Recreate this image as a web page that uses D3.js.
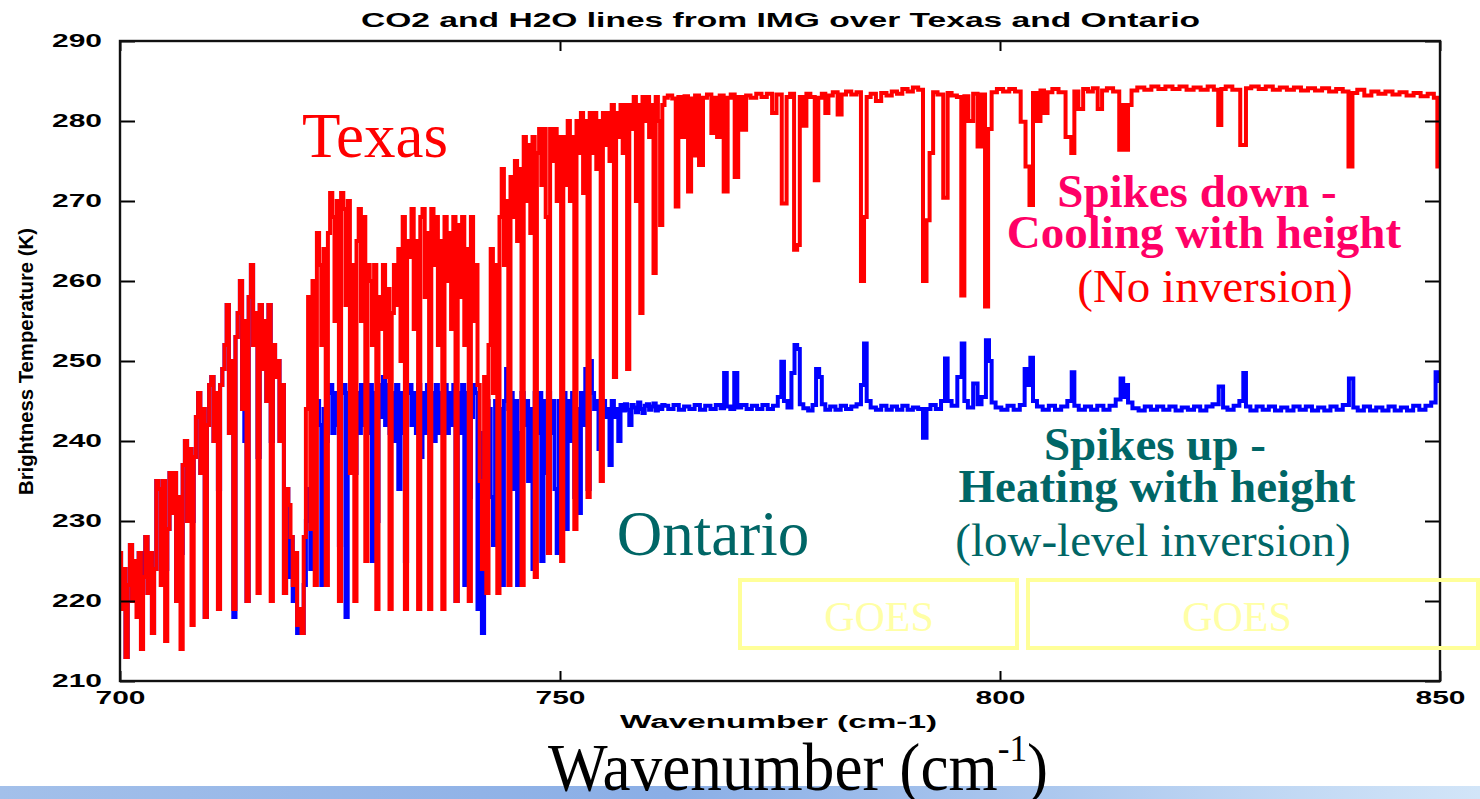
<!DOCTYPE html>
<html>
<head>
<meta charset="utf-8">
<script src="https://cdn.jsdelivr.net/npm/d3@7"></script>
<style>
  body { margin: 0; background: #fff; }
  svg { display: block; }
</style>
</head>
<body>
<div id="chart"></div>
<script>
// IMG brightness temperature spectra (K).
// Dense CO2 band part sampled every 0.25 cm-1, the rest as [wavenumber, K] pairs.
const STEP = 0.25;

const texas700 = [
  226, 219, 224, 213, 222, 227,  220, 225, 218, 226, 214, 223,
  228, 221, 226, 216, 224, 235,  234, 222, 235, 215, 229, 236,
  231, 236, 220, 233, 214, 237,  240, 230, 239, 217, 238, 243,
  246, 236, 244, 218, 242, 247,  248, 240, 246, 219, 247, 249,
  252, 257, 241, 250, 219, 253,  256, 260, 244, 255, 220, 258,
  262, 252, 256, 221, 257, 249,  255, 245, 257, 220, 252, 248,
  250, 240, 247, 221, 234, 232,  228, 222, 226, 217, 219, 216
];
const texas721 = [
  228, 244, 258, 229, 260, 222,  266, 262, 252, 264, 222, 266,
  271, 268, 255, 270, 220, 271,  269, 257, 270, 236, 262, 220,
  265, 269, 255, 268, 225, 262,  260, 252, 262, 219, 258, 254,
  262, 248, 259, 219, 256, 262,  257, 264, 250, 268, 219, 265,
  263, 269, 254, 265, 219, 268,  269, 258, 266, 219, 269, 262,
  268, 252, 265, 219, 268, 260,  266, 254, 268, 220, 267, 258,
  268, 252, 264, 220, 268, 255,  262, 247, 235, 224, 248, 221
];
const texas742 = [
  252, 264, 246, 262, 221, 268,  274, 262, 270, 222, 273, 268,
  275, 265, 274, 222, 278, 270,  277, 266, 278, 223, 276, 279,
  272, 279, 268, 226, 279, 275,  279, 270, 278, 225, 278, 272,
  280, 270, 278, 229, 280, 276,  281, 271, 280, 233, 281, 276,
  281, 274, 280, 235, 281, 277,  281, 275, 282, 248, 281, 278,
  282, 276, 282, 249, 282, 279,  283, 270, 282, 256, 283, 280,
  283, 278, 282, 261, 283, 280,  267, 282
];
const texasTail = [
  [762.0, 282.9], [762.5, 283.2], [763.0, 282.8], [763.3, 269.3], [763.6, 283.0], [764.0, 278],
  [764.3, 283.1], [764.8, 271.2], [765.0, 282.8], [765.2, 275.7], [765.5, 283.2], [766.1, 274.5],
  [766.4, 282.9], [767.0, 283.3], [767.4, 278.5], [767.7, 282.9], [768.0, 278], [768.3, 283.2],
  [768.9, 271.2], [769.2, 282.9], [769.6, 283.3], [770.1, 273], [770.4, 283.0], [771.0, 278.9],
  [771.3, 283.2], [772.0, 282.9], [772.6, 283.4], [773.2, 283.0], [773.8, 283.4], [774.4, 281],
  [774.8, 283.3], [775.6, 269.7], [775.9, 283.0], [776.4, 283.4], [776.8, 263.9], [777.1, 264.5],
  [777.4, 283.0], [777.8, 279.4], [778.2, 283.4], [778.7, 283.0], [779.2, 272.6], [779.5, 282.9],
  [780.0, 283.4], [780.3, 281], [780.7, 283.2], [781.3, 283.6], [781.8, 280.8], [782.2, 283.3],
  [782.8, 283.7], [783.4, 283.3], [784.0, 283.6], [784.4, 260], [784.7, 268], [785.0, 283.0],
  [785.6, 283.4], [786.2, 282.5], [786.8, 283.5], [787.4, 283.2], [788.0, 283.7], [788.6, 283.4],
  [789.2, 284.0], [789.8, 283.7], [790.4, 284.2], [791.0, 283.9], [791.5, 260], [791.8, 267.6],
  [792.2, 276], [792.6, 283.6], [793.2, 283.3], [793.9, 270.4], [794.2, 283.5], [794.8, 283.2],
  [795.4, 283.0], [795.8, 258.2], [796.1, 283.1], [796.7, 280], [797.2, 283.4], [797.7, 276.8],
  [798.1, 283.3], [798.5, 256.8], [798.8, 279], [799.3, 283.6], [800.0, 284.0], [800.7, 283.7],
  [801.4, 284.0], [802.0, 283.7], [802.7, 279.9], [803.1, 274.3], [803.6, 269.5], [803.9, 283.5],
  [804.4, 280], [804.8, 283.8], [805.2, 281], [805.6, 283.6], [806.3, 284.0], [807.0, 283.6],
  [807.9, 278], [808.3, 276], [808.6, 283.7], [809.2, 281.5], [809.7, 284.0], [810.3, 283.7],
  [810.8, 284.1], [811.4, 281.5], [811.8, 283.8], [812.5, 284.1], [813.2, 283.7], [813.9, 276.4],
  [814.1, 282], [814.4, 276.4], [814.7, 282], [815.2, 283.8], [816.0, 284.2], [816.8, 283.9],
  [817.6, 284.3], [818.4, 284.0], [819.2, 284.3], [820.0, 284.0], [820.8, 284.3], [821.6, 283.9],
  [822.4, 284.2], [823.2, 283.9], [824.0, 284.3], [824.6, 283.9], [825.0, 279.5], [825.3, 284.0],
  [826.0, 284.3], [826.8, 283.9], [827.8, 277], [828.1, 284.1], [829.0, 284.3], [829.8, 284.0],
  [830.6, 284.3], [831.4, 283.9], [832.2, 284.2], [833.0, 283.9], [833.8, 284.2], [834.6, 283.8],
  [835.4, 284.1], [836.2, 283.8], [837.0, 284.1], [837.8, 283.7], [838.6, 284.0], [839.3, 283.7],
  [839.9, 274.3], [840.2, 283.5], [841.0, 283.9], [841.8, 283.2], [842.6, 283.7], [843.4, 283.4],
  [844.2, 283.7], [845.0, 283.3], [845.8, 283.6], [846.6, 283.2], [847.4, 283.5], [848.2, 283.1],
  [849.0, 283.4], [849.6, 282.9], [849.8, 274.3], [850.0, 276]
];

// Ontario below 721 cm-1 lies mostly under the Texas trace; only the bits that show are distinct
const ontario700 = [
  226, 219, 224, 213, 222, 227,  220, 225, 222, 226, 226, 223,
  228, 221, 226, 216, 224, 235,  234, 224, 235, 224, 229, 236,
  231, 236, 220, 233, 226, 237,  240, 230, 239, 230, 238, 243,
  246, 236, 244, 218, 242, 247,  248, 240, 246, 234, 247, 249,
  252, 257, 241, 250, 218, 253,  256, 260, 244, 240, 220, 258,
  262, 252, 256, 238, 257, 249,  255, 245, 257, 240, 252, 248,
  250, 240, 247, 221, 234, 223,  228, 220, 226, 216, 219, 216
];
const ontario721 = [
  222, 230, 234, 224, 240, 243,  245, 242, 222, 244, 240, 246,
  247, 241, 246, 242, 227, 246,  247, 218, 246, 240, 247, 236,
  246, 241, 247, 242, 246, 241,  247, 225, 246, 230, 247, 243,
  248, 242, 247, 241, 246, 240,  247, 234, 246, 241, 225, 246,
  247, 242, 246, 241, 247, 238,  246, 241, 247, 242, 246, 240,
  247, 241, 246, 242, 247, 241,  246, 242, 247, 220, 246, 241,
  247, 222, 246, 233, 243, 247,  246, 219, 241, 216, 233, 245
];
const ontario742 = [
  244, 233, 227, 245, 231, 244,  222, 245, 249, 244, 246, 234,
  245, 222, 241, 246, 242, 245,  235, 244, 224, 246, 241, 246,
  225, 245, 236, 246, 241, 245,  234, 226, 245, 242, 246, 229,
  245, 240, 246, 233, 244, 231,  246, 242, 249, 234, 250, 246,
  244, 245, 239, 244, 245, 243,  244, 237, 245, 243, 244, 240,
  244.5, 243.8, 244.6, 243.9, 242, 244.5,  244.2, 243.6, 244.8, 244.0, 243.5, 244.4,
  244.6, 243.9, 244.3, 244.7, 243.8, 244.3,  244.0, 244.5
];
const ontarioTail = [
  [762.0, 244.4], [762.6, 244.0], [763.2, 244.5], [763.8, 243.9], [764.4, 244.3], [765.0, 244.0],
  [765.6, 244.5], [766.2, 243.9], [766.8, 244.4], [767.4, 244.0], [768.0, 244.5], [768.5, 244.1],
  [768.8, 248.5], [769.1, 244.3], [769.6, 244.0], [770.0, 248.5], [770.3, 244.2], [770.9, 244.5],
  [771.5, 244.0], [772.1, 244.4], [772.7, 244.0], [773.3, 244.5], [773.9, 244.0], [774.5, 244.4],
  [775.0, 245.5], [775.3, 249.9], [775.6, 245], [776.1, 244.2], [776.5, 248.5], [776.8, 252],
  [777.1, 251.5], [777.4, 244.6], [777.9, 244.1], [778.5, 243.8], [778.9, 244.5], [779.3, 249],
  [779.6, 248], [779.9, 244.6], [780.4, 243.9], [781.0, 244.3], [781.6, 243.9], [782.2, 244.4],
  [782.8, 244.0], [783.4, 244.3], [784.0, 244.6], [784.4, 247], [784.7, 252.2], [785.0, 245],
  [785.6, 244.2], [786.2, 243.9], [786.8, 244.4], [787.4, 243.9], [788.0, 244.3], [788.6, 243.9],
  [789.2, 244.4], [789.8, 243.9], [790.4, 244.2], [791.0, 244.0], [791.5, 240.4], [791.8, 244],
  [792.4, 244.5], [793.0, 244.0], [793.6, 245], [793.9, 250.3], [794.2, 245], [794.8, 244.4],
  [795.5, 248], [795.8, 252.2], [796.1, 245], [796.6, 244.2], [797.3, 247.2], [797.6, 244.6],
  [798.2, 245.5], [798.6, 252.6], [798.9, 250], [799.2, 244.8], [799.8, 244.2], [800.5, 243.9],
  [801.2, 244.4], [801.9, 243.9], [802.6, 244.5], [803.0, 249], [803.3, 247], [803.6, 250.4],
  [803.9, 245], [804.5, 244.3], [805.2, 243.9], [805.9, 244.4], [806.6, 243.9], [807.3, 244.3],
  [808.0, 245], [808.3, 248.6], [808.6, 244.4], [809.3, 243.9], [810.0, 244.3], [810.7, 243.9],
  [811.4, 244.4], [812.1, 243.9], [812.8, 244.4], [813.5, 245.2], [813.9, 247.8], [814.1, 245.5],
  [814.4, 247], [814.7, 244.8], [815.4, 244.1], [816.1, 243.8], [816.8, 244.3], [817.5, 243.9],
  [818.2, 244.3], [818.9, 243.9], [819.6, 244.3], [820.3, 243.8], [821.0, 244.2], [821.7, 243.9],
  [822.4, 244.3], [823.1, 243.8], [823.8, 244.3], [824.5, 244.6], [825.2, 246.8], [825.5, 244.2],
  [826.2, 243.9], [826.9, 244.4], [827.5, 245], [827.8, 248.5], [828.1, 244.3], [828.8, 243.8],
  [829.5, 244.3], [830.2, 243.9], [830.9, 244.3], [831.6, 243.8], [832.3, 244.2], [833.0, 243.8],
  [833.7, 244.3], [834.4, 243.9], [835.1, 244.3], [835.8, 243.8], [836.5, 244.2], [837.2, 243.8],
  [837.9, 244.3], [838.6, 243.9], [839.3, 244.5], [840.0, 247.8], [840.3, 244.2], [841.0, 243.8],
  [841.7, 244.3], [842.4, 243.8], [843.1, 244.2], [843.8, 243.8], [844.5, 244.3], [845.2, 243.8],
  [845.9, 244.2], [846.6, 243.8], [847.3, 244.4], [848.0, 243.9], [848.7, 244.4], [849.3, 244.8],
  [849.7, 248.6], [850.0, 247.5]
];

const xTicks = [700, 750, 800, 850];
const yTicks = [210, 220, 230, 240, 250, 260, 270, 280, 290];

const width = 1480, height = 799;
const margin = { top: 41, right: 40, bottom: 118, left: 120 };
const w = width - margin.left - margin.right;
const h = height - margin.top - margin.bottom;

const grid = (start, vals) => vals.map((v, i) => [start + i * STEP, v]);
const texas = [].concat(grid(700, texas700), grid(721, texas721), grid(742, texas742), texasTail);
const ontario = [].concat(grid(700, ontario700), grid(721, ontario721), grid(742, ontario742), ontarioTail);

const svg = d3.select('#chart').append('svg')
  .attr('width', width)
  .attr('height', height);

// slide background strip at the bottom
const defs = svg.append('defs');
const grad = defs.append('linearGradient').attr('id', 'strip');
grad.append('stop').attr('offset', '0%').attr('stop-color', '#a3c0ea');
grad.append('stop').attr('offset', '45%').attr('stop-color', '#8aaee6');
grad.append('stop').attr('offset', '100%').attr('stop-color', '#d2e5f8');
svg.append('rect').attr('x', 0).attr('y', 786).attr('width', width).attr('height', 13)
  .attr('fill', 'url(#strip)');

defs.append('clipPath').attr('id', 'plotclip')
  .append('rect').attr('width', w).attr('height', h);

const x = d3.scaleLinear().domain([700, 850]).range([0, w]);
const y = d3.scaleLinear().domain([210, 290]).range([h, 0]);

const g = svg.append('g').attr('transform', `translate(${margin.left},${margin.top})`);

const line = d3.line()
  .x(d => x(d[0]))
  .y(d => y(d[1]))
  .curve(d3.curveStep);

const lines = g.append('g').attr('clip-path', 'url(#plotclip)');
lines.append('path').datum(ontario)
  .attr('fill', 'none').attr('stroke', '#0000ff').attr('stroke-width', 4)
  .attr('d', line);
lines.append('path').datum(texas)
  .attr('fill', 'none').attr('stroke', '#ff0000').attr('stroke-width', 4)
  .attr('d', line);

// axes, ticks pointing inwards
const tickFont = a => a.selectAll('text')
  .attr('font-family', 'Liberation Sans, Arial, sans-serif')
  .attr('font-weight', 'bold')
  .attr('font-size', 18)
  .attr('fill', '#000')
  .attr('textLength', 50)
  .attr('lengthAdjust', 'spacingAndGlyphs');

g.append('g')
  .call(d3.axisLeft(y).tickValues(yTicks).tickSize(-15).tickPadding(18).tickFormat(d3.format('d')))
  .call(a => a.select('.domain').remove())
  .call(tickFont);
g.append('g').attr('transform', `translate(${w},0)`)
  .call(d3.axisRight(y).tickValues(yTicks).tickSize(-15).tickFormat(''))
  .call(a => a.select('.domain').remove());
g.append('g').attr('transform', `translate(0,${h})`)
  .call(d3.axisBottom(x).tickValues(xTicks).tickSize(-10).tickPadding(10).tickFormat(d3.format('d')))
  .call(a => a.select('.domain').remove())
  .call(tickFont);
g.append('g')
  .call(d3.axisTop(x).tickValues(xTicks).tickSize(-10).tickFormat(''))
  .call(a => a.select('.domain').remove());
g.selectAll('.tick line').attr('stroke', '#000').attr('stroke-width', 2);

g.append('rect').attr('width', w).attr('height', h)
  .attr('fill', 'none').attr('stroke', '#111').attr('stroke-width', 2.4);

// title and axis titles
const small = sel => sel
  .attr('font-family', 'Liberation Sans, Arial, sans-serif')
  .attr('font-weight', 'bold')
  .attr('lengthAdjust', 'spacingAndGlyphs');

svg.append('text').call(small)
  .attr('x', 361).attr('y', 27).attr('font-size', 20).attr('textLength', 839)
  .text('CO2 and H2O lines from IMG over Texas and Ontario');

svg.append('text').call(small)
  .attr('x', 620).attr('y', 728).attr('font-size', 18).attr('textLength', 317)
  .text('Wavenumber (cm-1)');

svg.append('text').call(small)
  .attr('transform', 'translate(33,495) rotate(-90)')
  .attr('font-size', 21).attr('textLength', 267)
  .text('Brightness Temperature (K)');

// slide annotations
const serif = 'Liberation Serif, Times New Roman, serif';
const note = (txt, cx, by, size, color, bold) => svg.append('text')
  .attr('x', cx).attr('y', by)
  .attr('text-anchor', 'middle')
  .attr('font-family', serif)
  .attr('font-size', size)
  .attr('font-weight', bold ? 'bold' : 'normal')
  .attr('fill', color)
  .text(txt);

note('Texas', 375, 157, 63, '#ff0000', false);
note('Ontario', 713, 555, 63, '#006666', false);
note('Spikes down -', 1197, 207, 47, '#ff0066', true);
note('Cooling with height', 1204, 248, 47, '#ff0066', true);
note('(No inversion)', 1215, 302, 47, '#ff0000', false);
note('Spikes up -', 1155, 460, 47, '#006666', true);
note('Heating with height', 1157, 502, 47, '#006666', true);
note('(low-level inversion)', 1153, 556, 47, '#006666', false);

// GOES boxes
const goes = [[740, 1017, 879], [1028, 1478, 1237]];
goes.forEach(([x0, x1, cx]) => {
  svg.append('rect').attr('x', x0).attr('y', 580).attr('width', x1 - x0).attr('height', 68)
    .attr('fill', 'none').attr('stroke', '#ffff99').attr('stroke-width', 4);
  note('GOES', cx, 631, 42, '#ffffa6', false);
});

// big slide axis caption
const cap = svg.append('text')
  .attr('transform', 'translate(548,790) scale(0.93,1)')
  .attr('font-family', serif)
  .attr('font-size', 68)
  .attr('fill', '#000');
cap.append('tspan').text('Wavenumber (cm');
cap.append('tspan').attr('font-size', 38).attr('dy', -29).text('-1');
cap.append('tspan').attr('dy', 29).text(')');
</script>
</body>
</html>
